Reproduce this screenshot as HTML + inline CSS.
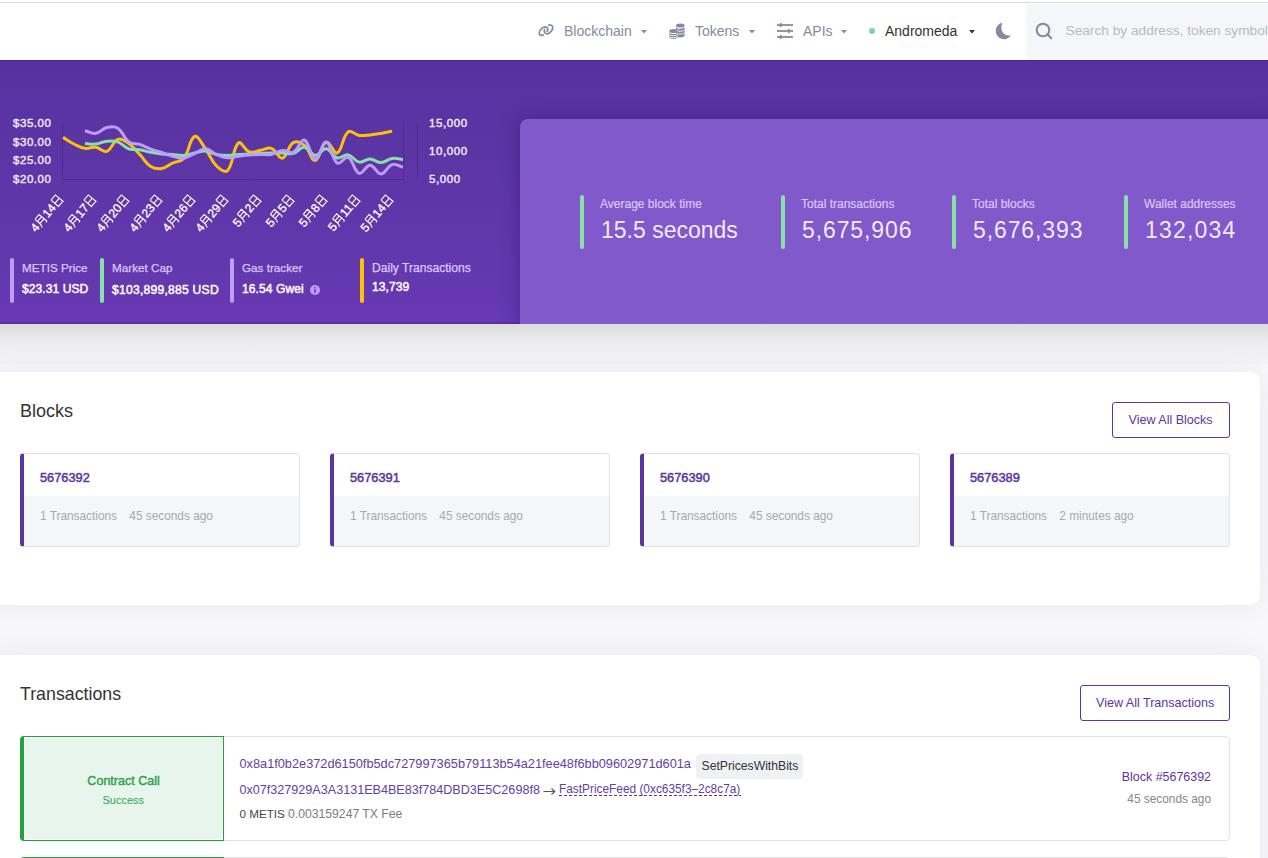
<!DOCTYPE html>
<html><head><meta charset="utf-8"><title>Metis Andromeda Explorer</title>
<style>
*{margin:0;padding:0;box-sizing:border-box}
html,body{width:1268px;height:858px;overflow:hidden;background:#f9f9fb;font-family:"Liberation Sans",sans-serif}
.t{position:absolute;white-space:nowrap}
.a{position:absolute}
</style></head>
<body>
<div class="a" style="left:0;top:0;width:1268px;height:60px;background:#fff"></div><div class="a" style="left:0;top:2px;width:1268px;height:1px;background:#dadada"></div><svg class="a" style="left:534px;top:20px" width="24" height="20" viewBox="0 0 24 20">
<g fill="none" stroke="#828ba0" stroke-width="1.7" stroke-linecap="round">
<path d="M9.3 14.9 C7.5 15.8 5.3 15.3 5.2 13.2 C5.1 11.5 6.4 9.6 8 8.2 C9.4 7 11.6 6.4 13 7.6 C14.2 8.6 13.8 10.4 13 11.4"/>
<path d="M10.5 9.3 C10 11 10.4 12.8 11.8 13.5 C13.3 14.2 15.2 13.3 16.6 11.8 C18.1 10.3 19.3 8.2 18.5 6.4 C17.8 4.8 15.8 4.6 14.5 5.4"/>
</g></svg><div class="t" style="top:24.15px;font-size:14px;line-height:14px;color:#828ba0;left:564px;">Blockchain</div>
<svg class="a" style="left:641px;top:30px" width="6" height="4" viewBox="0 0 6 4"><path d="M0 0 H6 L3 3.5 Z" fill="#828ba0"/></svg><svg class="a" style="left:669px;top:23px" width="16" height="16" viewBox="0 0 16 16"><g fill="#828ba0">
<ellipse cx="11.3" cy="2.6" rx="4.3" ry="2"/>
<path d="M7 3.8 V12.6 C7 13.6 9 14.4 11.3 14.4 C13.6 14.4 15.6 13.6 15.6 12.6 V3.8 C15.6 4.8 13.6 5.6 11.3 5.6 C9 5.6 7 4.8 7 3.8Z"/>
<ellipse cx="4.6" cy="8.1" rx="4.4" ry="2" fill="#828ba0"/>
<path d="M0.2 9.2 V14 C0.2 15 2.2 15.8 4.6 15.8 C7 15.8 9 15 9 14 V9.2 C9 10.2 7 11 4.6 11 C2.2 11 0.2 10.2 0.2 9.2Z"/>
</g><g stroke="#fff" stroke-width="0.8" fill="none">
<path d="M7.5 7.2 C8.5 8 10 8.3 11.3 8.3 C12.6 8.3 14.3 8 15.6 7.2"/>
<path d="M7.5 10 C8.5 10.8 10 11.1 11.3 11.1 C12.6 11.1 14.3 10.8 15.6 10"/>
<path d="M0.2 11.6 C1.2 12.4 2.8 12.7 4.6 12.7 C6.4 12.7 8 12.4 9 11.6"/>
<path d="M0.2 13.6 C1.2 14.4 2.8 14.7 4.6 14.7 C6.4 14.7 8 14.4 9 13.6"/>
<path d="M8.2 5.1 C9 5.5 10 5.7 11.3 5.7"/>
</g></svg><div class="t" style="top:24.15px;font-size:14px;line-height:14px;color:#828ba0;left:695px;">Tokens</div>
<svg class="a" style="left:748.5px;top:30px" width="6" height="4" viewBox="0 0 6 4"><path d="M0 0 H6 L3 3.5 Z" fill="#828ba0"/></svg><svg class="a" style="left:777px;top:23px" width="16" height="16" viewBox="0 0 16 16"><g fill="#828ba0">
<rect x="0" y="1.1" width="16" height="1.8"/><rect x="0" y="7.1" width="16" height="1.8"/><rect x="0" y="13.1" width="16" height="1.8"/>
<rect x="2.8" y="0" width="1.8" height="4" rx="0.5"/><rect x="11" y="6" width="1.8" height="4" rx="0.5"/><rect x="2.8" y="12" width="1.8" height="4" rx="0.5"/>
</g></svg><div class="t" style="top:24.15px;font-size:14px;line-height:14px;color:#828ba0;left:803px;">APIs</div>
<svg class="a" style="left:840.5px;top:30px" width="6" height="4" viewBox="0 0 6 4"><path d="M0 0 H6 L3 3.5 Z" fill="#828ba0"/></svg><div class="a" style="left:869px;top:28px;width:6px;height:6px;border-radius:50%;background:#80d6a1"></div><div class="t" style="top:24.15px;font-size:14px;line-height:14px;color:#333;left:885px;">Andromeda</div>
<svg class="a" style="left:969px;top:30px" width="6" height="4" viewBox="0 0 6 4"><path d="M0 0 H6 L3 3.5 Z" fill="#333"/></svg><svg class="a" style="left:995px;top:22px" width="17" height="18" viewBox="0 0 17 18"><path fill="#828ba0" d="M7.2 0.8 C3.4 1.6 0.8 5 0.8 9 C0.8 13.6 4.5 17.2 9 17.2 C12 17.2 14.6 15.7 16 13.3 C15.3 13.5 14.6 13.5 13.9 13.5 C9.7 13.5 6.4 10.2 6.4 6 C6.4 4.1 6.6 2.3 7.2 0.8Z"/></svg><div class="a" style="left:1026px;top:4px;width:260px;height:55px;background:#f5f6fa;border-radius:3px"></div><svg class="a" style="left:1035px;top:22px" width="18" height="18" viewBox="0 0 18 18"><g fill="none" stroke="#828ba0" stroke-width="2.1" stroke-linecap="round"><circle cx="8" cy="8" r="6.3"/><path d="M12.6 12.6 L16.3 16.3"/></g></svg><div class="t" style="top:24.00px;font-size:13.7px;line-height:13.7px;color:#bcb8bc;left:1065.5px;">Search by address, token symbol, name, transaction hash, or block number</div>
<div class="a" style="left:0;top:60px;width:1268px;height:264px;background:linear-gradient(180deg,#57329e 0%,#5c35a5 35%,#6739b3 100%)"></div><div class="a" style="left:0;top:60px;width:1268px;height:1px;background:#4c2893"></div><div class="a" style="left:0;top:61px;width:1268px;height:1px;background:#53309b"></div><div class="a" style="left:0;top:322px;width:1268px;height:2px;background:#5b2eaa"></div><div class="a" style="left:520px;top:119px;width:760px;height:205px;background:#8259ca;border-radius:8px 0 0 0;box-shadow:0 0 20px rgba(30,0,80,0.35)"></div><div class="a" style="left:0;top:324px;width:1268px;height:40px;background:linear-gradient(180deg,#dcdcdc 0%,#e5e5e8 25%,#efeff2 55%,#f5f5f8 100%)"></div><div class="a" style="left:580px;top:195px;width:4px;height:54px;border-radius:2px;background:#87e1a9"></div><div class="t" style="top:198.04px;font-size:12px;line-height:12px;color:#d9c8f8;left:600px;-webkit-text-stroke:0.2px #d9c8f8;">Average block time</div>
<div class="t" style="top:219.33px;font-size:23px;line-height:23px;color:rgba(255,255,255,0.9);letter-spacing:0px;left:601px;">15.5 seconds</div>
<div class="a" style="left:781px;top:195px;width:4px;height:54px;border-radius:2px;background:#87e1a9"></div><div class="t" style="top:198.04px;font-size:12px;line-height:12px;color:#d9c8f8;left:801px;-webkit-text-stroke:0.2px #d9c8f8;">Total transactions</div>
<div class="t" style="top:219.33px;font-size:23px;line-height:23px;color:rgba(255,255,255,0.9);letter-spacing:0.9px;left:802px;">5,675,906</div>
<div class="a" style="left:952px;top:195px;width:4px;height:54px;border-radius:2px;background:#87e1a9"></div><div class="t" style="top:198.04px;font-size:12px;line-height:12px;color:#d9c8f8;left:972px;-webkit-text-stroke:0.2px #d9c8f8;">Total blocks</div>
<div class="t" style="top:219.33px;font-size:23px;line-height:23px;color:rgba(255,255,255,0.9);letter-spacing:0.9px;left:973px;">5,676,393</div>
<div class="a" style="left:1124px;top:195px;width:4px;height:54px;border-radius:2px;background:#87e1a9"></div><div class="t" style="top:198.04px;font-size:12px;line-height:12px;color:#d9c8f8;left:1144px;-webkit-text-stroke:0.2px #d9c8f8;">Wallet addresses</div>
<div class="t" style="top:219.33px;font-size:23px;line-height:23px;color:rgba(255,255,255,0.9);letter-spacing:1.2px;left:1145px;">132,034</div>
<div class="a" style="left:10px;top:258px;width:4px;height:45px;border-radius:2px;background:#bf9cff"></div><div class="t" style="top:262.30px;font-size:11.7px;line-height:11.7px;color:#dcc8ff;left:22px;-webkit-text-stroke:0.25px #dcc8ff;">METIS Price</div>
<div class="t" style="top:282.96px;font-size:12.1px;line-height:12.1px;color:#fff;letter-spacing:0.05px;left:22px;-webkit-text-stroke:0.45px #fff;">$23.31 USD</div>
<div class="a" style="left:100px;top:258px;width:4px;height:45px;border-radius:2px;background:#87e1a9"></div><div class="t" style="top:262.30px;font-size:11.7px;line-height:11.7px;color:#dcc8ff;left:112px;-webkit-text-stroke:0.25px #dcc8ff;">Market Cap</div>
<div class="t" style="top:283.76px;font-size:12.1px;line-height:12.1px;color:#fff;letter-spacing:0.25px;left:112px;-webkit-text-stroke:0.45px #fff;">$103,899,885 USD</div>
<div class="a" style="left:230px;top:258px;width:4px;height:45px;border-radius:2px;background:#bf9cff"></div><div class="t" style="top:262.30px;font-size:11.7px;line-height:11.7px;color:#dcc8ff;left:242px;-webkit-text-stroke:0.25px #dcc8ff;">Gas tracker</div>
<div class="t" style="top:283.46px;font-size:12.1px;line-height:12.1px;color:#fff;letter-spacing:0.05px;left:242px;-webkit-text-stroke:0.45px #fff;">16.54 Gwei</div>
<div class="a" style="left:360px;top:258px;width:4px;height:45px;border-radius:2px;background:#fdc107"></div><div class="t" style="top:261.96px;font-size:12.1px;line-height:12.1px;color:#dcc8ff;left:372px;-webkit-text-stroke:0.25px #dcc8ff;">Daily Transactions</div>
<div class="t" style="top:280.76px;font-size:12.1px;line-height:12.1px;color:#fff;letter-spacing:0.05px;left:372px;-webkit-text-stroke:0.45px #fff;">13,739</div>
<svg class="a" style="left:310px;top:285px" width="10" height="10" viewBox="0 0 10 10"><circle cx="5" cy="5" r="5" fill="#bf9cff"/><rect x="4.3" y="4" width="1.5" height="4" fill="#6a3cb5"/><circle cx="5" cy="2.6" r="0.85" fill="#6a3cb5"/></svg><svg class="a" style="left:0;top:0" width="520" height="324" viewBox="0 0 520 324">
<path d="M62.5 124 V179.5 H404 M403.5 124 V179.5 M417.5 124 V179.5" fill="none" stroke="rgba(30,0,70,0.22)" stroke-width="1"/>
<path d="M63.00 137.40 C67.39 140.04 69.40 141.73 73.97 144.00 C78.17 146.09 80.40 147.62 84.94 148.30 C89.17 148.94 91.64 146.72 95.90 147.30 C100.42 147.92 103.20 152.64 106.87 151.30 C111.98 149.44 112.74 141.11 117.84 139.30 C121.52 137.99 125.03 140.88 128.81 143.50 C133.80 146.96 135.49 150.00 139.77 154.50 C144.26 159.20 145.54 163.16 150.74 166.50 C154.31 168.80 157.54 169.27 161.71 168.60 C166.31 167.87 168.21 165.06 172.68 163.00 C176.98 161.02 180.79 161.95 183.65 158.50 C189.56 151.35 189.38 138.77 194.61 136.50 C198.15 134.97 201.62 143.68 205.58 149.00 C210.40 155.48 211.02 160.56 216.55 166.00 C219.80 169.20 225.01 173.23 227.52 170.60 C233.78 164.03 232.55 148.03 238.48 143.00 C241.32 140.59 244.53 150.36 249.45 152.00 C253.30 153.28 256.04 151.04 260.42 150.30 C264.82 149.56 267.61 146.94 271.39 148.30 C276.39 150.10 278.52 159.20 282.35 158.20 C287.30 156.92 287.81 145.87 293.32 142.60 C296.58 140.67 301.00 142.52 304.29 145.20 C309.78 149.68 311.15 161.08 315.26 160.50 C319.93 159.84 321.12 143.87 326.23 142.10 C329.89 140.83 333.75 154.52 337.19 152.90 C342.52 150.40 342.25 136.51 348.16 131.80 C351.03 129.51 354.63 134.76 359.13 135.40 C363.41 136.00 365.73 135.30 370.10 134.90 C374.50 134.50 376.70 134.12 381.06 133.40 C385.47 132.68 387.65 132.14 392.03 131.30" fill="none" stroke="#fdc107" stroke-width="3" stroke-linejoin="round" stroke-linecap="butt"/>
<path d="M84.94 143.60 C89.32 143.76 91.58 144.47 95.90 144.00 C100.36 143.51 102.42 141.65 106.87 141.20 C111.19 140.77 113.82 140.41 117.84 141.80 C122.60 143.45 124.05 147.07 128.81 148.80 C132.83 150.27 135.43 149.11 139.77 149.80 C144.21 150.51 146.32 151.47 150.74 152.30 C155.10 153.11 157.30 153.46 161.71 153.90 C166.08 154.34 168.29 154.20 172.68 154.50 C177.07 154.80 179.30 155.70 183.65 155.40 C188.08 155.10 190.21 153.86 194.61 153.00 C198.98 152.14 201.26 150.82 205.58 151.10 C210.03 151.38 212.08 153.52 216.55 154.40 C220.85 155.24 223.13 155.38 227.52 155.40 C231.90 155.42 234.09 154.78 238.48 154.50 C242.87 154.22 245.06 154.20 249.45 154.00 C253.84 153.80 256.03 153.70 260.42 153.50 C264.81 153.30 267.00 153.10 271.39 153.00 C275.77 152.90 277.97 152.92 282.35 153.00 C286.74 153.08 289.24 154.48 293.32 153.40 C298.01 152.16 300.09 146.82 304.29 147.20 C308.86 147.62 310.72 155.07 315.26 155.40 C319.50 155.71 322.08 148.31 326.23 148.80 C330.86 149.35 332.31 156.64 337.19 158.00 C341.08 159.08 344.08 154.14 348.16 154.90 C352.86 155.78 354.43 161.22 359.13 162.10 C363.21 162.86 365.74 158.90 370.10 159.00 C374.51 159.10 376.71 162.70 381.06 162.60 C385.48 162.50 387.51 159.14 392.03 158.50 C396.29 157.90 398.61 159.10 403.00 159.50" fill="none" stroke="#87e1a9" stroke-width="3" stroke-linejoin="round" stroke-linecap="butt"/>
<path d="M84.94 130.80 C89.32 131.80 91.73 133.93 95.90 133.30 C100.51 132.61 102.22 128.58 106.87 127.50 C110.99 126.54 114.47 125.97 117.84 128.20 C123.24 131.77 123.45 138.04 128.81 142.00 C132.22 144.52 135.53 143.01 139.77 144.40 C144.30 145.89 146.26 147.54 150.74 149.20 C155.03 150.78 157.35 151.11 161.71 152.50 C166.12 153.91 168.21 155.04 172.68 156.20 C176.98 157.32 179.41 158.72 183.65 158.20 C188.18 157.64 190.23 155.38 194.61 153.50 C199.00 151.62 201.27 148.60 205.58 148.80 C210.05 149.00 211.99 152.65 216.55 154.50 C220.76 156.21 223.06 157.33 227.52 157.70 C231.83 158.05 234.09 156.84 238.48 156.30 C242.87 155.76 245.05 155.38 249.45 155.00 C253.83 154.62 256.03 154.52 260.42 154.40 C264.80 154.28 267.12 155.14 271.39 154.40 C275.90 153.62 277.87 151.03 282.35 150.60 C286.64 150.19 289.79 154.01 293.32 152.30 C298.57 149.77 300.53 138.85 304.29 140.00 C309.30 141.53 310.68 158.56 315.26 159.00 C319.46 159.40 322.19 141.35 326.23 142.10 C330.97 142.99 331.42 159.05 337.19 163.10 C340.19 165.21 344.75 155.90 348.16 157.50 C353.52 160.02 353.99 171.60 359.13 173.40 C362.77 174.68 365.76 165.10 370.10 165.20 C374.53 165.30 376.74 174.02 381.06 173.90 C385.51 173.78 387.11 166.10 392.03 164.60 C395.89 163.42 398.61 166.16 403.00 167.20" fill="none" stroke="#bf9cff" stroke-width="3" stroke-linejoin="round" stroke-linecap="butt"/>
<text x="51.5" y="127" text-anchor="end" font-size="11.5" letter-spacing="0.55" fill="#efe9f9" stroke="#efe9f9" stroke-width="0.4" font-family="Liberation Sans">$35.00</text>
<text x="51.5" y="146" text-anchor="end" font-size="11.5" letter-spacing="0.55" fill="#efe9f9" stroke="#efe9f9" stroke-width="0.4" font-family="Liberation Sans">$30.00</text>
<text x="51.5" y="164.4" text-anchor="end" font-size="11.5" letter-spacing="0.55" fill="#efe9f9" stroke="#efe9f9" stroke-width="0.4" font-family="Liberation Sans">$25.00</text>
<text x="51.5" y="183" text-anchor="end" font-size="11.5" letter-spacing="0.55" fill="#efe9f9" stroke="#efe9f9" stroke-width="0.4" font-family="Liberation Sans">$20.00</text>
<text x="429" y="127.2" font-size="11.5" letter-spacing="0.6" fill="#efe9f9" stroke="#efe9f9" stroke-width="0.4" font-family="Liberation Sans">15,000</text>
<text x="429" y="155" font-size="11.5" letter-spacing="0.6" fill="#efe9f9" stroke="#efe9f9" stroke-width="0.4" font-family="Liberation Sans">10,000</text>
<text x="429" y="183" font-size="11.5" letter-spacing="0.6" fill="#efe9f9" stroke="#efe9f9" stroke-width="0.4" font-family="Liberation Sans">5,000</text>
<g transform="translate(61.00,196.3) rotate(-50)"><text x="-44.02" y="4.3" font-size="12" fill="#fff" stroke="#fff" stroke-width="0.3" font-family="Liberation Sans">4</text><g fill="none" stroke="#fff" stroke-width="1.1"><path d="M-34.45 -5.1 H-28.05 V4.6 C-28.05 5.2 -28.35 5.4 -29.55 5.2 M-34.45 -5.1 V1.2 C-34.45 3.2 -35.05 4.5 -36.15 5.6 M-34.45 -1.8 H-28.05 M-34.45 1.4 H-28.05"/></g><text x="-25.35" y="4.3" font-size="12" fill="#fff" stroke="#fff" stroke-width="0.3" font-family="Liberation Sans">14</text><g fill="none" stroke="#fff" stroke-width="1.1"><path d="M-9.40 -5.2 H-2.60 V5.4 M-9.40 -5.2 V5.4 M-9.40 -0.1 H-2.60 M-9.40 4.6 H-2.60"/></g></g>
<g transform="translate(94.00,196.3) rotate(-50)"><text x="-44.02" y="4.3" font-size="12" fill="#fff" stroke="#fff" stroke-width="0.3" font-family="Liberation Sans">4</text><g fill="none" stroke="#fff" stroke-width="1.1"><path d="M-34.45 -5.1 H-28.05 V4.6 C-28.05 5.2 -28.35 5.4 -29.55 5.2 M-34.45 -5.1 V1.2 C-34.45 3.2 -35.05 4.5 -36.15 5.6 M-34.45 -1.8 H-28.05 M-34.45 1.4 H-28.05"/></g><text x="-25.35" y="4.3" font-size="12" fill="#fff" stroke="#fff" stroke-width="0.3" font-family="Liberation Sans">17</text><g fill="none" stroke="#fff" stroke-width="1.1"><path d="M-9.40 -5.2 H-2.60 V5.4 M-9.40 -5.2 V5.4 M-9.40 -0.1 H-2.60 M-9.40 4.6 H-2.60"/></g></g>
<g transform="translate(127.00,196.3) rotate(-50)"><text x="-44.02" y="4.3" font-size="12" fill="#fff" stroke="#fff" stroke-width="0.3" font-family="Liberation Sans">4</text><g fill="none" stroke="#fff" stroke-width="1.1"><path d="M-34.45 -5.1 H-28.05 V4.6 C-28.05 5.2 -28.35 5.4 -29.55 5.2 M-34.45 -5.1 V1.2 C-34.45 3.2 -35.05 4.5 -36.15 5.6 M-34.45 -1.8 H-28.05 M-34.45 1.4 H-28.05"/></g><text x="-25.35" y="4.3" font-size="12" fill="#fff" stroke="#fff" stroke-width="0.3" font-family="Liberation Sans">20</text><g fill="none" stroke="#fff" stroke-width="1.1"><path d="M-9.40 -5.2 H-2.60 V5.4 M-9.40 -5.2 V5.4 M-9.40 -0.1 H-2.60 M-9.40 4.6 H-2.60"/></g></g>
<g transform="translate(160.00,196.3) rotate(-50)"><text x="-44.02" y="4.3" font-size="12" fill="#fff" stroke="#fff" stroke-width="0.3" font-family="Liberation Sans">4</text><g fill="none" stroke="#fff" stroke-width="1.1"><path d="M-34.45 -5.1 H-28.05 V4.6 C-28.05 5.2 -28.35 5.4 -29.55 5.2 M-34.45 -5.1 V1.2 C-34.45 3.2 -35.05 4.5 -36.15 5.6 M-34.45 -1.8 H-28.05 M-34.45 1.4 H-28.05"/></g><text x="-25.35" y="4.3" font-size="12" fill="#fff" stroke="#fff" stroke-width="0.3" font-family="Liberation Sans">23</text><g fill="none" stroke="#fff" stroke-width="1.1"><path d="M-9.40 -5.2 H-2.60 V5.4 M-9.40 -5.2 V5.4 M-9.40 -0.1 H-2.60 M-9.40 4.6 H-2.60"/></g></g>
<g transform="translate(193.00,196.3) rotate(-50)"><text x="-44.02" y="4.3" font-size="12" fill="#fff" stroke="#fff" stroke-width="0.3" font-family="Liberation Sans">4</text><g fill="none" stroke="#fff" stroke-width="1.1"><path d="M-34.45 -5.1 H-28.05 V4.6 C-28.05 5.2 -28.35 5.4 -29.55 5.2 M-34.45 -5.1 V1.2 C-34.45 3.2 -35.05 4.5 -36.15 5.6 M-34.45 -1.8 H-28.05 M-34.45 1.4 H-28.05"/></g><text x="-25.35" y="4.3" font-size="12" fill="#fff" stroke="#fff" stroke-width="0.3" font-family="Liberation Sans">26</text><g fill="none" stroke="#fff" stroke-width="1.1"><path d="M-9.40 -5.2 H-2.60 V5.4 M-9.40 -5.2 V5.4 M-9.40 -0.1 H-2.60 M-9.40 4.6 H-2.60"/></g></g>
<g transform="translate(226.00,196.3) rotate(-50)"><text x="-44.02" y="4.3" font-size="12" fill="#fff" stroke="#fff" stroke-width="0.3" font-family="Liberation Sans">4</text><g fill="none" stroke="#fff" stroke-width="1.1"><path d="M-34.45 -5.1 H-28.05 V4.6 C-28.05 5.2 -28.35 5.4 -29.55 5.2 M-34.45 -5.1 V1.2 C-34.45 3.2 -35.05 4.5 -36.15 5.6 M-34.45 -1.8 H-28.05 M-34.45 1.4 H-28.05"/></g><text x="-25.35" y="4.3" font-size="12" fill="#fff" stroke="#fff" stroke-width="0.3" font-family="Liberation Sans">29</text><g fill="none" stroke="#fff" stroke-width="1.1"><path d="M-9.40 -5.2 H-2.60 V5.4 M-9.40 -5.2 V5.4 M-9.40 -0.1 H-2.60 M-9.40 4.6 H-2.60"/></g></g>
<g transform="translate(259.00,196.3) rotate(-50)"><text x="-37.35" y="4.3" font-size="12" fill="#fff" stroke="#fff" stroke-width="0.3" font-family="Liberation Sans">5</text><g fill="none" stroke="#fff" stroke-width="1.1"><path d="M-27.77 -5.1 H-21.37 V4.6 C-21.37 5.2 -21.67 5.4 -22.87 5.2 M-27.77 -5.1 V1.2 C-27.77 3.2 -28.37 4.5 -29.47 5.6 M-27.77 -1.8 H-21.37 M-27.77 1.4 H-21.37"/></g><text x="-18.67" y="4.3" font-size="12" fill="#fff" stroke="#fff" stroke-width="0.3" font-family="Liberation Sans">2</text><g fill="none" stroke="#fff" stroke-width="1.1"><path d="M-9.40 -5.2 H-2.60 V5.4 M-9.40 -5.2 V5.4 M-9.40 -0.1 H-2.60 M-9.40 4.6 H-2.60"/></g></g>
<g transform="translate(292.00,196.3) rotate(-50)"><text x="-37.35" y="4.3" font-size="12" fill="#fff" stroke="#fff" stroke-width="0.3" font-family="Liberation Sans">5</text><g fill="none" stroke="#fff" stroke-width="1.1"><path d="M-27.77 -5.1 H-21.37 V4.6 C-21.37 5.2 -21.67 5.4 -22.87 5.2 M-27.77 -5.1 V1.2 C-27.77 3.2 -28.37 4.5 -29.47 5.6 M-27.77 -1.8 H-21.37 M-27.77 1.4 H-21.37"/></g><text x="-18.67" y="4.3" font-size="12" fill="#fff" stroke="#fff" stroke-width="0.3" font-family="Liberation Sans">5</text><g fill="none" stroke="#fff" stroke-width="1.1"><path d="M-9.40 -5.2 H-2.60 V5.4 M-9.40 -5.2 V5.4 M-9.40 -0.1 H-2.60 M-9.40 4.6 H-2.60"/></g></g>
<g transform="translate(325.00,196.3) rotate(-50)"><text x="-37.35" y="4.3" font-size="12" fill="#fff" stroke="#fff" stroke-width="0.3" font-family="Liberation Sans">5</text><g fill="none" stroke="#fff" stroke-width="1.1"><path d="M-27.77 -5.1 H-21.37 V4.6 C-21.37 5.2 -21.67 5.4 -22.87 5.2 M-27.77 -5.1 V1.2 C-27.77 3.2 -28.37 4.5 -29.47 5.6 M-27.77 -1.8 H-21.37 M-27.77 1.4 H-21.37"/></g><text x="-18.67" y="4.3" font-size="12" fill="#fff" stroke="#fff" stroke-width="0.3" font-family="Liberation Sans">8</text><g fill="none" stroke="#fff" stroke-width="1.1"><path d="M-9.40 -5.2 H-2.60 V5.4 M-9.40 -5.2 V5.4 M-9.40 -0.1 H-2.60 M-9.40 4.6 H-2.60"/></g></g>
<g transform="translate(358.00,196.3) rotate(-50)"><text x="-43.13" y="4.3" font-size="12" fill="#fff" stroke="#fff" stroke-width="0.3" font-family="Liberation Sans">5</text><g fill="none" stroke="#fff" stroke-width="1.1"><path d="M-33.56 -5.1 H-27.16 V4.6 C-27.16 5.2 -27.46 5.4 -28.66 5.2 M-33.56 -5.1 V1.2 C-33.56 3.2 -34.16 4.5 -35.26 5.6 M-33.56 -1.8 H-27.16 M-33.56 1.4 H-27.16"/></g><text x="-24.46" y="4.3" font-size="12" fill="#fff" stroke="#fff" stroke-width="0.3" font-family="Liberation Sans">11</text><g fill="none" stroke="#fff" stroke-width="1.1"><path d="M-9.40 -5.2 H-2.60 V5.4 M-9.40 -5.2 V5.4 M-9.40 -0.1 H-2.60 M-9.40 4.6 H-2.60"/></g></g>
<g transform="translate(391.00,196.3) rotate(-50)"><text x="-44.02" y="4.3" font-size="12" fill="#fff" stroke="#fff" stroke-width="0.3" font-family="Liberation Sans">5</text><g fill="none" stroke="#fff" stroke-width="1.1"><path d="M-34.45 -5.1 H-28.05 V4.6 C-28.05 5.2 -28.35 5.4 -29.55 5.2 M-34.45 -5.1 V1.2 C-34.45 3.2 -35.05 4.5 -36.15 5.6 M-34.45 -1.8 H-28.05 M-34.45 1.4 H-28.05"/></g><text x="-25.35" y="4.3" font-size="12" fill="#fff" stroke="#fff" stroke-width="0.3" font-family="Liberation Sans">14</text><g fill="none" stroke="#fff" stroke-width="1.1"><path d="M-9.40 -5.2 H-2.60 V5.4 M-9.40 -5.2 V5.4 M-9.40 -0.1 H-2.60 M-9.40 4.6 H-2.60"/></g></g>
</svg><div class="a" style="left:-20px;top:372px;width:1280px;height:233px;background:#fff;border-radius:10px;box-shadow:0 0 30px 0 rgba(202,199,226,0.4);"></div><div class="t" style="top:401.76px;font-size:18px;line-height:18px;color:#333;left:20px;">Blocks</div>
<div class="a" style="left:1112px;top:402px;width:118px;height:36px;border:1px solid #5c34a2;border-radius:3px"></div><div class="t" style="top:414.38px;font-size:12.55px;line-height:12.55px;color:#5c34a2;left:1128.5px;">View All Blocks</div>
<div class="a" style="left:20px;top:453px;width:280px;height:94px;border:1px solid #dfe2e8;border-left:4px solid #5c34a2;border-radius:4px;background:linear-gradient(180deg,#fff 0,#fff 42px,#f5f6f8 42px)"></div><div class="t" style="top:471.66px;font-size:12.8px;line-height:12.8px;color:#5a36a4;left:40px;-webkit-text-stroke:0.5px #5a36a4;">5676392</div>
<div class="t" style="top:511.17px;font-size:11.85px;line-height:11.85px;color:#a3a9b5;left:40px;">1 Transactions</div>
<div class="t" style="top:511.17px;font-size:11.85px;line-height:11.85px;color:#a3a9b5;left:129.3px;">45 seconds ago</div>
<div class="a" style="left:330px;top:453px;width:280px;height:94px;border:1px solid #dfe2e8;border-left:4px solid #5c34a2;border-radius:4px;background:linear-gradient(180deg,#fff 0,#fff 42px,#f5f6f8 42px)"></div><div class="t" style="top:471.66px;font-size:12.8px;line-height:12.8px;color:#5a36a4;left:350px;-webkit-text-stroke:0.5px #5a36a4;">5676391</div>
<div class="t" style="top:511.17px;font-size:11.85px;line-height:11.85px;color:#a3a9b5;left:350px;">1 Transactions</div>
<div class="t" style="top:511.17px;font-size:11.85px;line-height:11.85px;color:#a3a9b5;left:439.3px;">45 seconds ago</div>
<div class="a" style="left:640px;top:453px;width:280px;height:94px;border:1px solid #dfe2e8;border-left:4px solid #5c34a2;border-radius:4px;background:linear-gradient(180deg,#fff 0,#fff 42px,#f5f6f8 42px)"></div><div class="t" style="top:471.66px;font-size:12.8px;line-height:12.8px;color:#5a36a4;left:660px;-webkit-text-stroke:0.5px #5a36a4;">5676390</div>
<div class="t" style="top:511.17px;font-size:11.85px;line-height:11.85px;color:#a3a9b5;left:660px;">1 Transactions</div>
<div class="t" style="top:511.17px;font-size:11.85px;line-height:11.85px;color:#a3a9b5;left:749.3px;">45 seconds ago</div>
<div class="a" style="left:950px;top:453px;width:280px;height:94px;border:1px solid #dfe2e8;border-left:4px solid #5c34a2;border-radius:4px;background:linear-gradient(180deg,#fff 0,#fff 42px,#f5f6f8 42px)"></div><div class="t" style="top:471.66px;font-size:12.8px;line-height:12.8px;color:#5a36a4;left:970px;-webkit-text-stroke:0.5px #5a36a4;">5676389</div>
<div class="t" style="top:511.17px;font-size:11.85px;line-height:11.85px;color:#a3a9b5;left:970px;">1 Transactions</div>
<div class="t" style="top:511.17px;font-size:11.85px;line-height:11.85px;color:#a3a9b5;left:1059.3px;">2 minutes ago</div>
<div class="a" style="left:-20px;top:655px;width:1280px;height:260px;background:#fff;border-radius:10px;box-shadow:0 0 30px 0 rgba(202,199,226,0.4);"></div><div class="t" style="top:686.13px;font-size:17.8px;line-height:17.8px;color:#333;left:20px;">Transactions</div>
<div class="a" style="left:1080px;top:685px;width:150px;height:36px;border:1px solid #5c34a2;border-radius:3px"></div><div class="t" style="top:697.38px;font-size:12.55px;line-height:12.55px;color:#5c34a2;left:1096px;">View All Transactions</div>
<div class="a" style="left:20px;top:736px;width:1210px;height:105px;border:1px solid #dfe2e8;border-radius:4px;background:#fff"></div><div class="a" style="left:20px;top:736px;width:204px;height:105px;border:1px solid #20a33a;border-left:4px solid #20a33a;border-radius:4px 0 0 4px;padding:1px;background:#e8f5ec;background-clip:content-box"></div><div class="a" style="left:20px;top:857px;width:1210px;height:105px;border:1px solid #dfe2e8;border-radius:4px;background:#fff"></div><div class="a" style="left:20px;top:857px;width:204px;height:105px;border:1px solid #20a33a;border-left:4px solid #20a33a;border-radius:4px 0 0 4px;padding:1px;background:#e8f5ec;background-clip:content-box"></div><div class="t" style="top:774.98px;font-size:12.55px;line-height:12.55px;color:#2f9e4c;left:-76.4px;width:400px;text-align:center;-webkit-text-stroke:0.4px #2f9e4c;">Contract Call</div>
<div class="t" style="top:794.69px;font-size:11.0px;line-height:11.0px;color:#2fa650;left:-76.7px;width:400px;text-align:center;">Success</div>
<div class="t" style="top:757.61px;font-size:12.75px;line-height:12.75px;color:#6340a8;left:239.5px;">0x8a1f0b2e372d6150fb5dc727997365b79113b54a21fee48f6bb09602971d601a</div>
<div class="a" style="left:696px;top:753.5px;width:107px;height:25px;border-radius:4px;background:#f0f1f5"></div><div class="t" style="top:760.47px;font-size:12.2px;line-height:12.2px;color:#333;left:701.5px;">SetPricesWithBits</div>
<div class="t" style="top:783.83px;font-size:12.6px;line-height:12.6px;color:#6340a8;left:239.5px;">0x07f327929A3A3131EB4BE83f784DBD3E5C2698f8</div>
<svg class="a" style="left:543px;top:787px" width="13" height="9" viewBox="0 0 13 9"><path d="M0.5 4.5 H11.5 M8.5 1.5 L11.8 4.5 L8.5 7.5" fill="none" stroke="#555" stroke-width="1.1"/></svg><div class="t" style="top:784.45px;font-size:11.87px;line-height:11.87px;color:#6340a8;left:559px;">FastPriceFeed (0xc635f3&ndash;2c8c7a)</div>
<div class="a" style="left:559px;top:795px;width:182px;height:1px;background:repeating-linear-gradient(90deg,#5c34a2 0 3px,transparent 3px 5px)"></div><div class="t" style="top:807.54px;font-size:11.65px;line-height:11.65px;color:#454545;left:239.5px;">0 METIS <span style="color:#7c7c7c;font-size:12.2px">0.003159247 TX Fee</span></div>
<div class="t" style="top:771.36px;font-size:12.45px;line-height:12.45px;color:#5c34a2;right:57px;">Block #5676392</div>
<div class="t" style="top:794.47px;font-size:11.85px;line-height:11.85px;color:#85888f;right:57px;">45 seconds ago</div>

</body></html>
